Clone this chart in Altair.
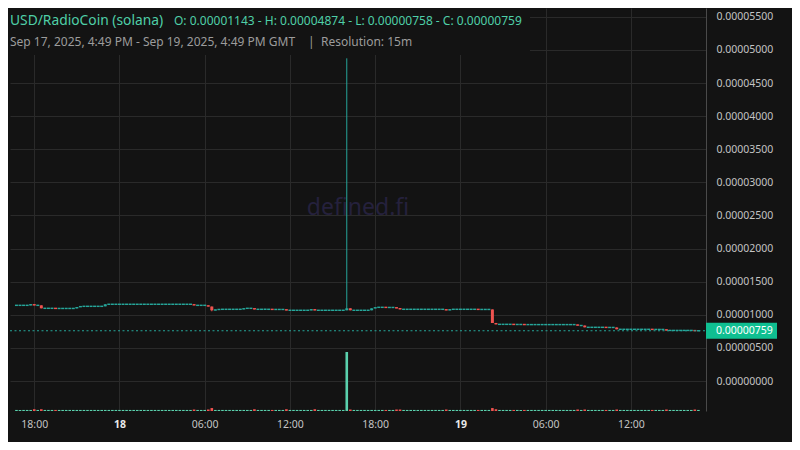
import altair as alt
import pandas as pd

# ---------------- colours ----------------
BG = "#131313"
GRID = "#2a2a2a"
UP = "#26a69a"
DOWN = "#ef5350"
VOL_UP = "#5ad1ad"
VOL_DOWN = "#ef5350"
HEAD = "#4fcfa8"
BOX = "#0fbf91"

# ---------------- data ----------------
FIRST_CANDLE = "2025-09-17 16:45"
N_CANDLES = 193
FIRST_OPEN = 0.00001143

# consecutive candles sharing the same close: (count, close)
CLOSE_RUNS = [
    (4, 0.00001143), (1, 0.00001159), (2, 0.00001143), (4, 0.00001098),
    (6, 0.00001096), (1, 0.00001118), (7, 0.00001128), (25, 0.00001159),
    (4, 0.00001143), (1, 0.00001125), (1, 0.00001068), (1, 0.00001078),
    (7, 0.00001083), (3, 0.00001098), (5, 0.00001083), (4, 0.00001081),
    (7, 0.00001068), (1, 0.00001083), (9, 0.00001068), (1, 0.00001098),
    (6, 0.00001068), (1, 0.00001098), (3, 0.00001113), (3, 0.00001111),
    (1, 0.00001100), (13, 0.00001083), (1, 0.00001068), (8, 0.00001083),
    (4, 0.00001081), (1, 0.00000876), (5, 0.00000856), (3, 0.00000854),
    (15, 0.00000852), (2, 0.00000838), (6, 0.00000811), (3, 0.00000809),
    (10, 0.00000781), (4, 0.00000779), (8, 0.00000764), (2, 0.00000759),
]
# candles whose wick goes beyond the body: index -> (low, high)
WICKS = {55: (0.00001053, None), 93: (None, 0.00004874), 191: (0.00000758, None)}

VOLUME_BASE = 1.8
VOLUME_PEAKS = {93: 100, 55: 5, 134: 5, 5: 3, 7: 3, 50: 2.5, 54: 2.5, 67: 3,
                76: 3, 84: 3, 94: 2.5, 107: 2.5, 108: 2.5, 121: 2.5, 135: 3,
                158: 2.5, 160: 2.5, 169: 2.5, 183: 2.5, 191: 2.5}

X_TICKS = [(17, 18), (18, 0), (18, 6), (18, 12), (18, 18), (19, 0), (19, 6), (19, 12)]
Y_TICKS = [i * 0.000005 for i in range(12)]

HEADER = "USD/RadioCoin (solana)"
OHLC = "O: 0.00001143 - H: 0.00004874 - L: 0.00000758 - C: 0.00000759"
SUB = "Sep 17, 2025, 4:49 PM - Sep 19, 2025, 4:49 PM GMT"
RES = "Resolution: 15m"
WATERMARK = "defined.fi"

# ---------------- table ----------------
closes = []
for n, v in CLOSE_RUNS:
    closes += [v] * n
opens = [FIRST_OPEN] + closes[:-1]
highs, lows = [], []
for i, (o, c) in enumerate(zip(opens, closes)):
    lo, hi = min(o, c), max(o, c)
    if i in WICKS:
        wl, wh = WICKS[i]
        lo = wl if wl is not None else lo
        hi = wh if wh is not None else hi
    highs.append(hi)
    lows.append(lo)
vols = [VOLUME_PEAKS.get(i, VOLUME_BASE) for i in range(N_CANDLES)]
times = pd.date_range(FIRST_CANDLE, periods=N_CANDLES, freq="15min")
df = pd.DataFrame({
    "t": times.strftime("%Y-%m-%dT%H:%M:%SZ"),
    "open": opens, "close": closes, "high": highs, "low": lows, "vol": vols,
})
last = df.tail(1).copy()

# ---------------- scales / axes ----------------
W, H = 696, 403
FONT = "Noto Sans"

def dt(day, h, m=0, s=0):
    return alt.DateTime(year=2025, month=9, date=day, hours=h, minutes=m, seconds=s, utc=True)

x_scale = alt.Scale(type="utc", domain=[dt(17, 16, 38, 49), dt(19, 16, 56, 1)])
x_axis = alt.Axis(
    values=[dt(d, h) for d, h in X_TICKS],
    labelExpr="utchours(datum.value) == 0 ? utcFormat(datum.value, '%d') : utcFormat(datum.value, '%H:%M')",
    labelFontWeight={"condition": {"test": "utchours(datum.value) == 0", "value": "bold"}, "value": "normal"},
    labelColor={"condition": {"test": "utchours(datum.value) == 0", "value": "#e8e8e8"}, "value": "#c4c4c4"},
    grid=True, gridColor=GRID, domain=False, ticks=False, labelPadding=8,
    labelFontSize=10.5, labelFont=FONT, title=None,
)
X = alt.X("t:T", scale=x_scale, axis=x_axis)

y_scale = alt.Scale(domain=[-0.00000453, 0.00005634], nice=False, zero=False)
y_axis = alt.Axis(
    orient="right", values=Y_TICKS, format=".8f", grid=True, gridColor=GRID,
    domainColor="#4a4a4a", ticks=False, labelPadding=10, labelColor="#c4c4c4",
    labelFontSize=10.5, labelFont=FONT, title=None,
)

def Y(field):
    return alt.Y(field, scale=y_scale, axis=y_axis)

color_cond = alt.condition("datum.close >= datum.open", alt.value(UP), alt.value(DOWN))

# ---------------- layers ----------------
volume = alt.Chart(df).mark_bar(size=2.6).encode(
    x=X,
    y=alt.Y("vol:Q", scale=alt.Scale(domain=[0, 683], nice=False), axis=None),
    color=alt.condition("datum.close >= datum.open", alt.value(VOL_UP), alt.value(VOL_DOWN)),
)

header_box = alt.Chart(last).mark_rect(color=BG).encode(
    x=alt.value(-2), x2=alt.value(520), y=alt.value(0), y2=alt.value(47)
)

watermark = alt.Chart(pd.DataFrame({"s": [WATERMARK]})).mark_text(
    font=FONT, fontSize=23, color="#25213d", align="center", baseline="alphabetic"
).encode(text="s:N", x=alt.value(348), y=alt.value(207))

wicks = alt.Chart(df).mark_rule(strokeWidth=1).encode(
    x=X, y=Y("low:Q"), y2="high:Q", color=color_cond,
)

MIN_BODY = 0.00000022
bodies = alt.Chart(df).transform_calculate(
    gap="abs(datum.open - datum.close)",
    body_hi=f"max(datum.open, datum.close) + (datum.gap < {MIN_BODY} ? ({MIN_BODY} - datum.gap) / 2 : 0)",
    body_lo=f"min(datum.open, datum.close) - (datum.gap < {MIN_BODY} ? ({MIN_BODY} - datum.gap) / 2 : 0)",
).mark_bar(size=3).encode(
    x=X, y=Y("body_hi:Q"), y2="body_lo:Q", color=color_cond,
)

price_line = alt.Chart(last).mark_rule(color=UP, strokeWidth=1, strokeDash=[2, 2.5]).encode(
    y=Y("close:Q"), x=alt.value(0), x2=alt.value(W),
)
price_box = alt.Chart(last).mark_rule(color=BOX, strokeWidth=16, strokeCap="butt").encode(
    y=Y("close:Q"), x=alt.value(W), x2=alt.value(W + 71),
)
price_text = alt.Chart(last).mark_text(
    font=FONT, fontSize=10.5, color="#ffffff", align="left", baseline="middle"
).encode(y=Y("close:Q"), x=alt.value(W + 10), text=alt.Text("close:Q", format=".8f"))

def label(s, x, y, size, color):
    return alt.Chart(pd.DataFrame({"s": [s]})).mark_text(
        font=FONT, fontSize=size, color=color, align="left", baseline="alphabetic"
    ).encode(text="s:N", x=alt.value(x), y=alt.value(y))

texts = [
    label(HEADER, 0, 17, 13.8, HEAD),
    label(OHLC, 164, 17, 12, HEAD),
    label(SUB, 0, 38, 12, "#9c9c9c"),
    label("|", 298, 38, 12, "#9c9c9c"),
    label(RES, 311, 38, 12, "#9c9c9c"),
]

price = alt.layer(header_box, watermark, wicks, bodies, price_line, price_box, price_text, *texts)

chart = alt.layer(volume, price).resolve_scale(y="independent").properties(
    width=W, height=H,
    autosize=alt.AutoSizeParams(type="none"),
    padding={"left": 2, "top": 0, "right": 86, "bottom": 31},
    background=BG,
).configure_view(strokeWidth=0)

chart.save("out.html", embed_options={"renderer": "svg", "actions": False})
